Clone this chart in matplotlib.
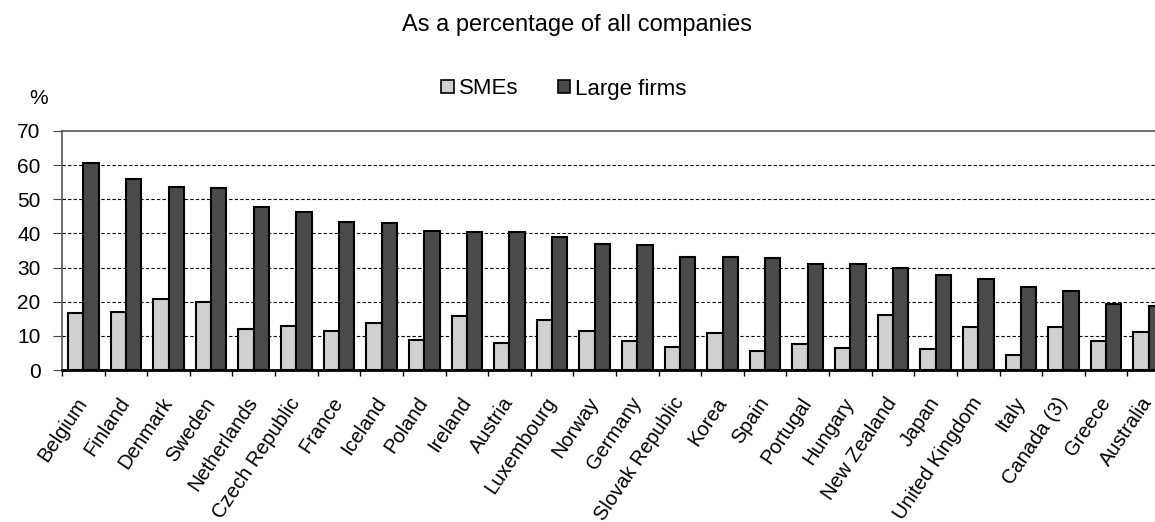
import numpy as np
import matplotlib
matplotlib.use("Agg")
import matplotlib.pyplot as plt
from matplotlib.patches import Patch

plt.rcParams['font.family'] = ['Liberation Sans', 'DejaVu Sans']

countries = ["Belgium", "Finland", "Denmark", "Sweden", "Netherlands", "Czech Republic",
             "France", "Iceland", "Poland", "Ireland", "Austria", "Luxembourg", "Norway",
             "Germany", "Slovak Republic", "Korea", "Spain", "Portugal", "Hungary",
             "New Zealand", "Japan", "United Kingdom", "Italy", "Canada (3)", "Greece",
             "Australia"]
smes = [16.8, 17.1, 20.7, 20.0, 12.1, 12.8, 11.4, 13.8, 8.9, 15.7, 7.8, 14.6, 11.5,
        8.6, 6.8, 10.7, 5.7, 7.5, 6.4, 16.0, 6.1, 12.5, 4.3, 12.5, 8.6, 11.0]
large_firms = [60.5, 55.9, 53.7, 53.4, 47.7, 46.3, 43.4, 43.1, 40.7, 40.3, 40.3, 39.0,
               36.8, 36.5, 33.2, 33.2, 32.7, 31.0, 31.0, 29.9, 27.7, 26.7, 24.2, 23.1,
               19.3, 18.8]
yticks = [0, 10, 20, 30, 40, 50, 60, 70]

W, H = 1155, 522
fig = plt.figure(figsize=(W / 100, H / 100), dpi=100)
ax = fig.add_axes([62 / W, 1 - 370 / H, 1108 / W, (370 - 131) / H])

x = np.arange(len(countries))
bw = 0.36
sme_col = "#d0d0d0"
large_col = "#4a4a4a"
ax.bar(x - bw / 2, smes, width=bw, color=sme_col, edgecolor="black", linewidth=1.5, zorder=3)
ax.bar(x + bw / 2, large_firms, width=bw, color=large_col, edgecolor="black", linewidth=1.5, zorder=3)

ax.set_xlim(-0.5, len(countries) - 0.5)
ax.set_ylim(0, 70)
ax.set_yticks(yticks)
ax.tick_params(axis="y", labelsize=15, length=6.5, color="#444444", pad=9)
for v in yticks[1:-1]:
    ax.axhline(v, color="black", linestyle=(0, (3, 2)), linewidth=0.8, zorder=1)

ax.set_xticks(x)
ax.set_xticklabels(countries, rotation=56, ha="right", va="center",
                   rotation_mode="anchor", fontsize=14.5)
ax.tick_params(axis="x", length=0, pad=21)
ax.set_xticks(np.arange(-0.5, len(countries)), minor=True)
ax.tick_params(axis="x", which="minor", length=4.5, color="black", width=1)

for side in ["top", "left"]:
    ax.spines[side].set_color("#555555")
    ax.spines[side].set_linewidth(1.2)
ax.spines["right"].set_visible(False)
ax.spines["bottom"].set_color("black")
ax.spines["bottom"].set_linewidth(2)
ax.spines["bottom"].set_zorder(4)

handles = [Patch(facecolor=sme_col, edgecolor="black", linewidth=1.2, label="SMEs"),
           Patch(facecolor=large_col, edgecolor="black", linewidth=1.2, label="Large firms")]
fig.legend(handles=handles, loc="center", bbox_to_anchor=(564 / W, 1 - 89 / H), ncol=2,
           frameon=False, fontsize=16, handlelength=0.55, handleheight=0.55,
           handletextpad=0.25, columnspacing=1.75)

fig.text(39 / W, 1 - 98 / H, "%", fontsize=15, ha="center", va="center")
fig.text(577 / W, 1 - 25 / H, "As a percentage of all companies", fontsize=17,
         ha="center", va="center")

fig.savefig("out.png", dpi=100)
